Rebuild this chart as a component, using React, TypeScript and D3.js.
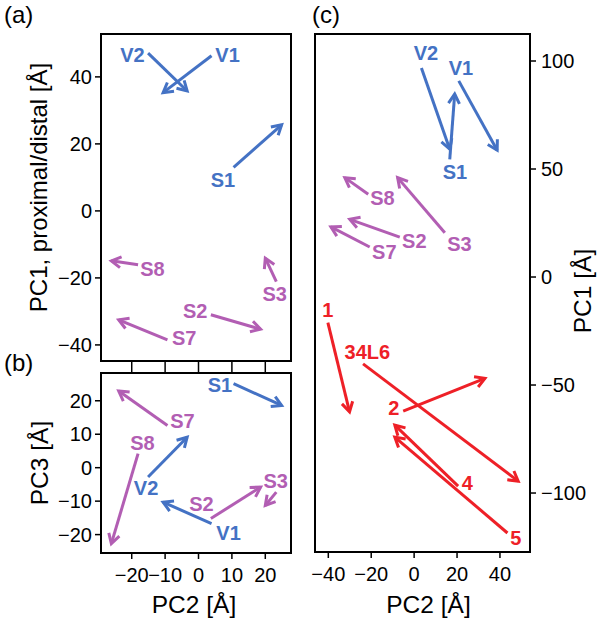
import React from "react";
import * as d3 from "d3";

// ---------- data ----------
// Panels (a) & (b): arrows shared PC2, PC1 in (a), PC3 in (b)
const abNames = ["V2", "V1", "S1", "S8", "S3", "S2", "S7"];
const abGroups = ["V", "V", "V", "S", "S", "S", "S"];
const abPC2Start = [-15.1, 3.9, 10.5, -18.1, 23.3, 3.7, -9.3];
const abPC2End = [-3.4, -10.6, 24.9, -26.1, 20.0, 18.6, -23.9];
const aPC1Start = [47.1, 46.3, 13.0, -16.1, -21.1, -31.0, -38.5];
const aPC1End = [35.8, 35.3, 25.7, -14.9, -14.1, -35.3, -32.5];
const bPC3Start = [-2.8, -16.7, 25.1, 4.2, -7.3, -15.2, 12.6];
const bPC3End = [9.1, -10.3, 18.6, -22.7, -11.3, -5.8, 22.9];
// label anchor points (data units)
const aLabelPC2 = [-19.8, 8.7, 7.3, -13.8, 22.8, -1.0, -4.3];
const aLabelPC1 = [46.6, 46.6, 9.3, -17.2, -24.9, -30.0, -37.8];
const bLabelPC2 = [-15.7, 9.0, 6.4, -16.8, 23.1, 0.9, -4.8];
const bLabelPC3 = [-6.0, -19.5, 24.7, 7.4, -3.9, -10.8, 14.0];

// Panel (c)
const cNames = ["V2", "V1", "S1", "S8", "S3", "S2", "S7", "1", "34L6", "2", "4", "5"];
const cGroups = ["V", "V", "V", "S", "S", "S", "S", "L", "L", "L", "L", "L"];
const cPC2Start = [3.4, 20.8, 16.6, -21.4, 14.3, -6.7, -20.7, -40.2, -23.8, -5.1, 20.5, 43.5];
const cPC2End = [16.6, 38.7, 18.9, -32.3, -7.7, -30.0, -38.8, -30.1, 48.5, 33.0, -9.0, -9.0];
const cPC1Start = [96.8, 90.8, 54.5, 38.3, 20.5, 18.5, 13.9, -21.1, -40.2, -62.1, -96.8, -118.5];
const cPC1End = [59.2, 58.7, 84.7, 46.0, 46.0, 26.7, 23.2, -62.4, -94.5, -46.9, -68.6, -74.1];
const cLabelPC2 = [5.5, 21.8, 19.0, -14.8, 21.1, 0.1, -13.9, -40.2, -21.8, -9.5, 24.8, 47.4];
const cLabelPC1 = [103.6, 96.6, 48.4, 36.8, 15.1, 16.9, 11.8, -15.5, -34.5, -60.5, -95.2, -120.7];

// ticks
const abXTicks = [-20, -10, 0, 10, 20];
const aYTicks = [40, 20, 0, -20, -40];
const bYTicks = [20, 10, 0, -10, -20];
const cXTicks = [-40, -20, 0, 20, 40];
const cYTicks = [100, 50, 0, -50, -100];

const groupColor: Record<string, string> = { V: "#4472C4", S: "#B25EB3", L: "#EE2027" };

// ---------- layout ----------
const A = { l: 101, r: 291, t: 34, b: 361 };
const B = { l: 101, r: 291, t: 373, b: 553 };
const C = { l: 315, r: 530, t: 34, b: 552 };

const xAB = d3.scaleLinear().domain([-29.2, 27.7]).range([A.l, A.r]);
const yA = d3.scaleLinear().domain([-44.8, 52.8]).range([A.b, A.t]);
const yB = d3.scaleLinear().domain([-25.5, 28.3]).range([B.b, B.t]);
const xC = d3.scaleLinear().domain([-46.2, 54]).range([C.l, C.r]);
const yC = d3.scaleLinear().domain([-127.3, 112.5]).range([C.b, C.t]);

const FONT = "'Liberation Sans', Arial, Helvetica, sans-serif";
const TICK = 20;
const TITLE = 24.5;
const LBL = 20;
const fmt = (v: number) => (v < 0 ? "\u2212" + Math.abs(v) : String(v));

function Arrow({ x1, y1, x2, y2, color }: { x1: number; y1: number; x2: number; y2: number; color: string }) {
  const ang = Math.atan2(y2 - y1, x2 - x1);
  const len = 11;
  const half = (30 * Math.PI) / 180;
  const w1 = [x2 - len * Math.cos(ang - half), y2 - len * Math.sin(ang - half)];
  const w2 = [x2 - len * Math.cos(ang + half), y2 - len * Math.sin(ang + half)];
  return (
    <g stroke={color} strokeWidth={3} fill="none">
      <line x1={x1} y1={y1} x2={x2} y2={y2} />
      <polyline points={`${w1[0]},${w1[1]} ${x2},${y2} ${w2[0]},${w2[1]}`} strokeLinejoin="miter" />
    </g>
  );
}

function Label({ x, y, text, color }: { x: number; y: number; text: string; color: string }) {
  return (
    <text x={x} y={y} fill={color} fontFamily={FONT} fontWeight="bold" fontSize={LBL} textAnchor="middle" dominantBaseline="central">
      {text}
    </text>
  );
}

export default function App() {
  return (
    <svg width={600} height={621} style={{ position: "absolute", left: 0, top: 0, background: "#fff" }}>
      <rect x={0} y={0} width={600} height={621} fill="#fff" />
      {/* panel letters */}
      <g fontFamily={FONT} fontSize={24} fill="#000">
        <text x={4} y={23}>(a)</text>
        <text x={4} y={371}>(b)</text>
        <text x={312} y={23}>(c)</text>
      </g>

      {/* Panel (a) */}
      <g>
        {aYTicks.map((t) => (
          <g key={"ay" + t}>
            <line x1={A.l - 6} x2={A.l} y1={yA(t)} y2={yA(t)} stroke="#000" strokeWidth={1.5} />
            <text x={A.l - 9} y={yA(t)} textAnchor="end" dominantBaseline="central" fontFamily={FONT} fontSize={TICK}>
              {fmt(t)}
            </text>
          </g>
        ))}
        {abXTicks.map((t) => (
          <line key={"ax" + t} x1={xAB(t)} x2={xAB(t)} y1={A.b} y2={B.t} stroke="#000" strokeWidth={1.5} />
        ))}
        {abNames.map((n, i) => (
          <Arrow key={"aa" + n} x1={xAB(abPC2Start[i])} y1={yA(aPC1Start[i])} x2={xAB(abPC2End[i])} y2={yA(aPC1End[i])} color={groupColor[abGroups[i]]} />
        ))}
        {abNames.map((n, i) => (
          <Label key={"al" + n} x={xAB(aLabelPC2[i])} y={yA(aLabelPC1[i])} text={n} color={groupColor[abGroups[i]]} />
        ))}
        <rect x={A.l} y={A.t} width={A.r - A.l} height={A.b - A.t} fill="none" stroke="#000" strokeWidth={2} />
        <text transform={`translate(47,${(A.t + A.b) / 2 - 10}) rotate(-90)`} textAnchor="middle" fontFamily={FONT} fontSize={TITLE - 0.5}>
          PC1, proximal/distal [Å]
        </text>
      </g>

      {/* Panel (b) */}
      <g>
        {bYTicks.map((t) => (
          <g key={"by" + t}>
            <line x1={B.l - 6} x2={B.l} y1={yB(t)} y2={yB(t)} stroke="#000" strokeWidth={1.5} />
            <text x={B.l - 9} y={yB(t)} textAnchor="end" dominantBaseline="central" fontFamily={FONT} fontSize={TICK}>
              {fmt(t)}
            </text>
          </g>
        ))}
        {abXTicks.map((t) => (
          <g key={"bx" + t}>
            <line x1={xAB(t)} x2={xAB(t)} y1={B.b} y2={B.b + 6} stroke="#000" strokeWidth={1.5} />
            <text x={xAB(t)} y={B.b + 29} textAnchor="middle" fontFamily={FONT} fontSize={TICK}>
              {fmt(t)}
            </text>
          </g>
        ))}
        {abNames.map((n, i) => (
          <Arrow key={"ba" + n} x1={xAB(abPC2Start[i])} y1={yB(bPC3Start[i])} x2={xAB(abPC2End[i])} y2={yB(bPC3End[i])} color={groupColor[abGroups[i]]} />
        ))}
        {abNames.map((n, i) => (
          <Label key={"bl" + n} x={xAB(bLabelPC2[i])} y={yB(bLabelPC3[i])} text={n} color={groupColor[abGroups[i]]} />
        ))}
        <rect x={B.l} y={B.t} width={B.r - B.l} height={B.b - B.t} fill="none" stroke="#000" strokeWidth={2} />
        <text transform={`translate(48,${(B.t + B.b) / 2}) rotate(-90)`} textAnchor="middle" fontFamily={FONT} fontSize={TITLE}>
          PC3 [Å]
        </text>
        <text x={(B.l + B.r) / 2 - 2} y={613} textAnchor="middle" fontFamily={FONT} fontSize={TITLE}>
          PC2 [Å]
        </text>
      </g>

      {/* Panel (c) */}
      <g>
        {cYTicks.map((t) => (
          <g key={"cy" + t}>
            <line x1={C.r} x2={C.r + 6} y1={yC(t)} y2={yC(t)} stroke="#000" strokeWidth={1.5} />
            <text x={C.r + 11} y={yC(t)} textAnchor="start" dominantBaseline="central" fontFamily={FONT} fontSize={TICK}>
              {fmt(t)}
            </text>
          </g>
        ))}
        {cXTicks.map((t) => (
          <g key={"cx" + t}>
            <line x1={xC(t)} x2={xC(t)} y1={C.b} y2={C.b + 6} stroke="#000" strokeWidth={1.5} />
            <text x={xC(t)} y={C.b + 29} textAnchor="middle" fontFamily={FONT} fontSize={TICK}>
              {fmt(t)}
            </text>
          </g>
        ))}
        {cNames.map((n, i) => (
          <Arrow key={"ca" + n} x1={xC(cPC2Start[i])} y1={yC(cPC1Start[i])} x2={xC(cPC2End[i])} y2={yC(cPC1End[i])} color={groupColor[cGroups[i]]} />
        ))}
        {cNames.map((n, i) => (
          <Label key={"cl" + n} x={xC(cLabelPC2[i])} y={yC(cLabelPC1[i])} text={n} color={groupColor[cGroups[i]]} />
        ))}
        <rect x={C.l} y={C.t} width={C.r - C.l} height={C.b - C.t} fill="none" stroke="#000" strokeWidth={2} />
        <text transform={`translate(591,${(C.t + C.b) / 2 - 2}) rotate(-90)`} textAnchor="middle" fontFamily={FONT} fontSize={TITLE}>
          PC1 [Å]
        </text>
        <text x={(C.l + C.r) / 2 + 6} y={613} textAnchor="middle" fontFamily={FONT} fontSize={TITLE}>
          PC2 [Å]
        </text>
      </g>
    </svg>
  );
}
